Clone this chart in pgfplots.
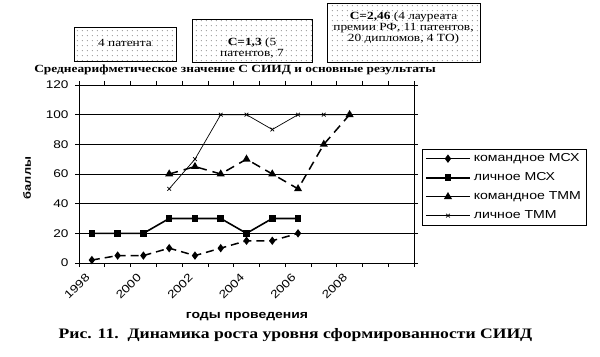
\documentclass[border=0pt]{standalone}
\usepackage{pgfplots}
\pgfplotsset{compat=1.18}
\usepackage{fontspec}
\setmainfont[FakeStretch=1.22]{Liberation Serif}
\setsansfont[FakeStretch=1.22]{Liberation Sans}
\usetikzlibrary{patterns.meta}
\begin{document}
\begin{tikzpicture}[x=1bp,y=1bp]
\path[use as bounding box] (0,0) rectangle (600,356);
% annotation boxes
\tikzset{dbox/.style={draw=black, line width=0.7bp, fill=white}}
\tikzset{dpat/.style={pattern={Dots[distance=5.2bp,radius=0.45bp]}}}
\path[dbox] (74,295) rectangle (176,328.7);
\path[dpat] (74,295) rectangle (176,328.7);
\path[dbox] (192,294) rectangle (312,337);
\path[dpat] (192,294) rectangle (312,337);
\path[dbox] (327,294) rectangle (480,352.7);
\path[dpat] (327,294) rectangle (480,352.7);
\node[font=\fontsize{11}{11}\selectfont] at (125,313) {4 патента};
\node[font=\fontsize{11}{11}\selectfont, align=center] at (252,308) {\textbf{С=1,3} (5\\патентов, 7};
\node[font=\fontsize{11}{11.2}\selectfont, align=center] at (403.5,328.3) {\textbf{С=2,46} (4 лауреата\\премии РФ, 11 патентов,\\20 дипломов, 4 ТО)};
\node[font=\bfseries\fontsize{11}{12}\selectfont] at (235,286) {Среднеарифметическое значение С СИИД и основные результаты};
\node[font=\sffamily\bfseries\fontsize{11.5}{12}\selectfont] at (247,39) {годы проведения};
\node[font=\bfseries\fontsize{14.5}{16}\selectfont] at (295.5,21) {Рис. 11.\ \ Динамика роста уровня сформированности СИИД};
\node[font=\sffamily\bfseries\fontsize{10.5}{12}\selectfont, rotate=90] at (27,178) {баллы};
\begin{axis}[
  at={(79bp,93bp)}, anchor=south west,
  scale only axis, width=335bp, height=178bp,
  xmin=-0.5, xmax=12.5, ymin=0, ymax=120,
  xtick={-0.5,0.5,...,12.5}, xticklabels={},
  extra x ticks={0,2,4,6,8,10},
  extra x tick labels={1998,2000,2002,2004,2006,2008},
  extra x tick style={major tick length=0pt, xticklabel style={xshift=-7bp, yshift=-5bp, rotate=45, anchor=north east}},
  ytick={0,20,...,120},
  ymajorgrids, major grid style={black, line width=0.6bp},
  tick align=outside, major tick length=4bp,
  tick style={black, line width=0.6bp},
  axis line style={black, line width=0.6bp},
  ticklabel style={font=\sffamily\fontsize{11.2}{12}\selectfont},
  /pgf/number format/assume math mode=true,
  yticklabel style={xshift=-3bp},
  legend style={at={(1.025,0.64)}, anchor=north west, draw=black, line width=0.6bp,
    font=\sffamily\fontsize{11.6}{12}\selectfont, row sep=5.5bp, inner sep=2.5bp,
    nodes={inner xsep=3bp}},
  legend cell align=left,
  legend image code/.code={\draw[#1, solid, mark=none] (0bp,0bp) -- (44bp,0bp);
    \draw[#1, solid, only marks] plot coordinates {(22bp,0bp)};},
]
\addplot[black, line width=1.5bp, dash pattern=on 8bp off 5bp, mark=diamond*, mark size=3bp, mark options={solid}]
  coordinates {(0,2) (1,5) (2,5) (3,10) (4,5) (5,10) (6,15) (7,15) (8,20)};
\addlegendentry{командное МСХ}
\addplot[black, line width=1.6bp, mark=square*, mark size=2.5bp, mark options={solid}]
  coordinates {(0,20) (1,20) (2,20) (3,30) (4,30) (5,30) (6,20) (7,30) (8,30)};
\addlegendentry{личное МСХ}
\addplot[black, line width=1.5bp, dash pattern=on 9bp off 6bp, mark=triangle*, mark size=3.2bp, mark options={solid}]
  coordinates {(3,60) (4,65) (5,60) (6,70) (7,60) (8,50) (9,80) (10,100)};
\addlegendentry{командное ТММ}
\addplot[black, line width=0.7bp, mark=x, mark size=2.6bp, mark options={solid}]
  coordinates {(3,50) (4,70) (5,100) (6,100) (7,90) (8,100) (9,100) (10,100)};
\addlegendentry{личное ТММ}
\end{axis}
\end{tikzpicture}
\end{document}
